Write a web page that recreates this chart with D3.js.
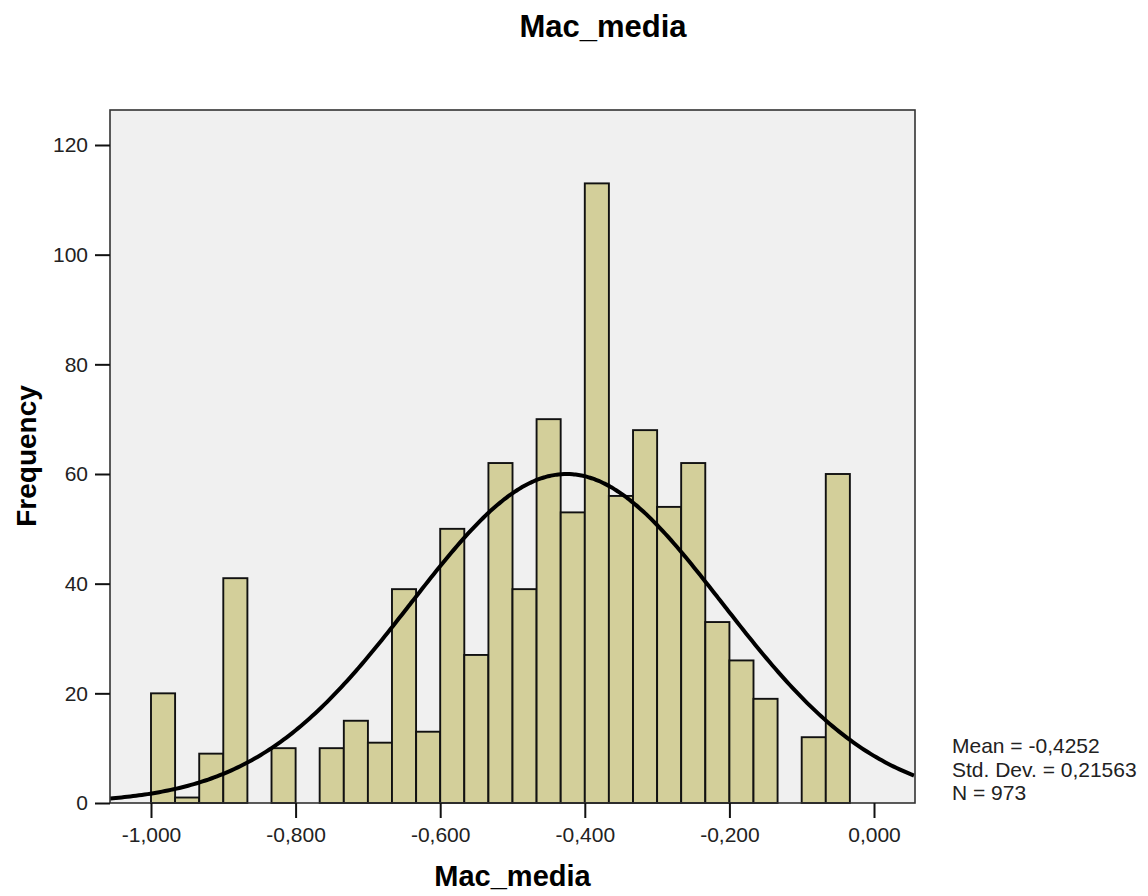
<!DOCTYPE html>
<html>
<head>
<meta charset="utf-8">
<script src="https://cdn.jsdelivr.net/npm/d3@7"></script>
<style>
  body { margin: 0; background: #fff; }
  svg { display: block; font-family: Arial, "Liberation Sans", sans-serif; }
</style>
</head>
<body>
<div id="chart"></div>
<script>
// Histogram bins of Mac_media (lower edge of each bin) and their frequencies
const binStarts = [-1.0000, -0.9667, -0.9333, -0.9000, -0.8667, -0.8333, -0.8000, -0.7667,
                   -0.7333, -0.7000, -0.6667, -0.6333, -0.6000, -0.5667, -0.5333, -0.5000,
                   -0.4667, -0.4333, -0.4000, -0.3667, -0.3333, -0.3000, -0.2667, -0.2333,
                   -0.2000, -0.1667, -0.1333, -0.1000, -0.0667];
const binWidth = 0.03333;
const counts = [20, 1, 9, 41, 0, 10, 0, 10,
                15, 11, 39, 13, 50, 27, 62, 39,
                70, 53, 113, 56, 68, 54, 62, 33,
                26, 19, 0, 12, 60];

const xTicks = [-1.0, -0.8, -0.6, -0.4, -0.2, 0.0];
const yTicks = [0, 20, 40, 60, 80, 100, 120];

// summary stats shown at the right (normal curve is fitted from these)
const mean = -0.4252;
const stdDev = 0.21563;
const nTotal = 973;

const W = 1148, H = 896;
const plot = {left: 110, right: 915, top: 110, bottom: 803};

const svg = d3.select('#chart').append('svg')
    .attr('width', W)
    .attr('height', H);

const x = d3.scaleLinear()
    .domain([-1.0567, 0.0567])
    .range([plot.left, plot.right]);

const y = d3.scaleLinear()
    .domain([0, 120])
    .range([plot.bottom, 145]);

// plot background
svg.append('rect')
    .attr('x', plot.left)
    .attr('y', plot.top)
    .attr('width', plot.right - plot.left)
    .attr('height', plot.bottom - plot.top)
    .attr('fill', '#f0f0f0');

svg.append('clipPath').attr('id', 'clip')
    .append('rect')
    .attr('x', plot.left)
    .attr('y', plot.top)
    .attr('width', plot.right - plot.left)
    .attr('height', plot.bottom - plot.top);

// bars
const bins = binStarts.map((b, i) => ({x0: b, x1: b + binWidth, n: counts[i]}));
svg.append('g')
    .selectAll('rect')
    .data(bins.filter(d => d.n > 0))
    .join('rect')
    .attr('x', d => x(d.x0))
    .attr('y', d => y(d.n))
    .attr('width', d => x(d.x1) - x(d.x0))
    .attr('height', d => y(0) - y(d.n))
    .attr('fill', '#d3cf9a')
    .attr('stroke', '#111')
    .attr('stroke-width', 1.9);

// normal curve
const curveX = d3.range(x.domain()[0], x.domain()[1] + 0.001, 0.004);
const density = v => nTotal * binWidth / (stdDev * Math.sqrt(2 * Math.PI)) *
    Math.exp(-0.5 * Math.pow((v - mean) / stdDev, 2));
svg.append('path')
    .datum(curveX)
    .attr('clip-path', 'url(#clip)')
    .attr('fill', 'none')
    .attr('stroke', '#000')
    .attr('stroke-width', 4)
    .attr('d', d3.line().x(d => x(d)).y(d => y(density(d))).curve(d3.curveBasis));

// frame
svg.append('rect')
    .attr('x', plot.left)
    .attr('y', plot.top)
    .attr('width', plot.right - plot.left)
    .attr('height', plot.bottom - plot.top)
    .attr('fill', 'none')
    .attr('stroke', '#333')
    .attr('stroke-width', 1.6);

// axes
const fmt = v => d3.format('.3f')(v).replace('.', ',').replace('−', '-');

const yAxis = svg.append('g')
    .attr('transform', `translate(${plot.left},0)`)
    .call(d3.axisLeft(y).tickValues(yTicks).tickSize(15).tickPadding(7));
const xAxis = svg.append('g')
    .attr('transform', `translate(0,${plot.bottom})`)
    .call(d3.axisBottom(x).tickValues(xTicks).tickSize(15).tickPadding(9).tickFormat(fmt));

[yAxis, xAxis].forEach(a => {
    a.select('.domain').remove();
    a.selectAll('.tick line').attr('stroke', '#111').attr('stroke-width', 2);
    a.selectAll('.tick text')
        .attr('fill', '#222')
        .style('font-size', '21px')
        .style('font-family', 'Arial, "Liberation Sans", sans-serif');
});

// titles
svg.append('text')
    .attr('x', 603)
    .attr('y', 37)
    .attr('text-anchor', 'middle')
    .style('font-size', '31px')
    .style('font-weight', 'bold')
    .text('Mac_media');

svg.append('text')
    .attr('x', (plot.left + plot.right) / 2)
    .attr('y', 886)
    .attr('text-anchor', 'middle')
    .style('font-size', '29px')
    .style('font-weight', 'bold')
    .text('Mac_media');

svg.append('text')
    .attr('transform', 'translate(36,456) rotate(-90)')
    .attr('text-anchor', 'middle')
    .style('font-size', '28px')
    .style('font-weight', 'bold')
    .text('Frequency');

// stats
const stats = [
    `Mean = ${String(mean).replace('.', ',')}`,
    `Std. Dev. = ${String(stdDev).replace('.', ',')}`,
    `N = ${nTotal}`
];
svg.append('g')
    .selectAll('text')
    .data(stats)
    .join('text')
    .attr('x', 952)
    .attr('y', (d, i) => 753 + i * 23.5)
    .attr('fill', '#222')
    .style('font-size', '21px')
    .text(d => d);
</script>
</body>
</html>
